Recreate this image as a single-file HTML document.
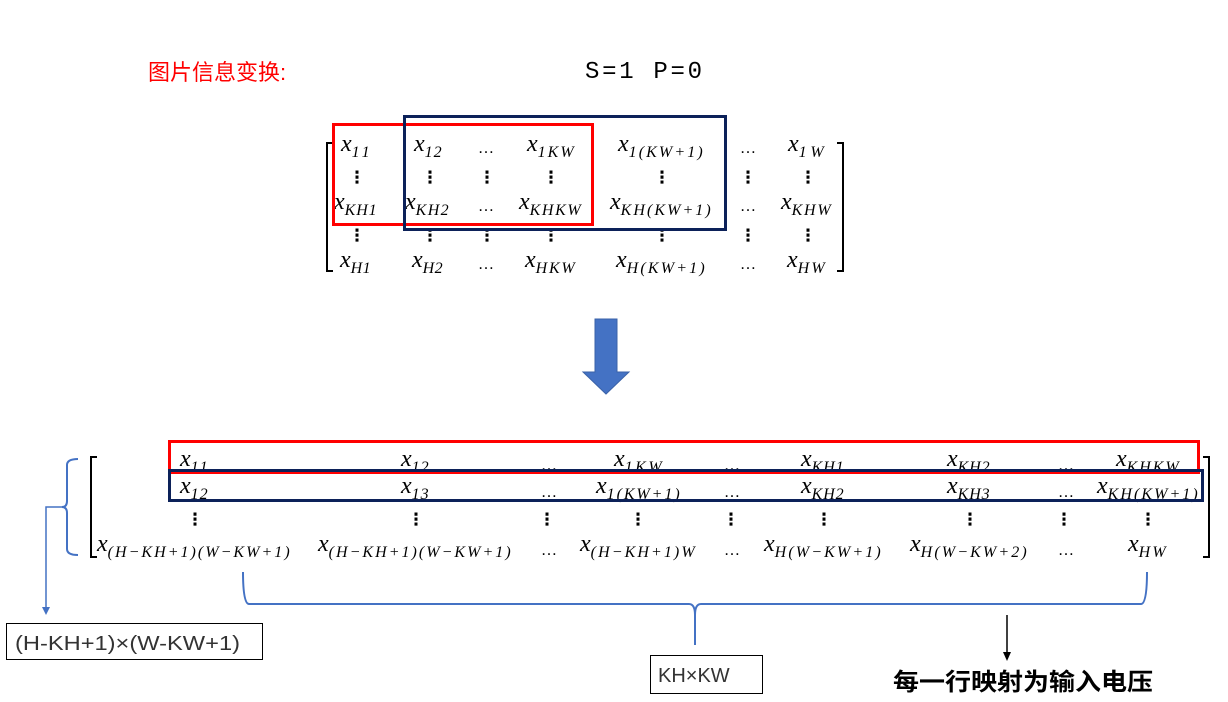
<!DOCTYPE html>
<html><head><meta charset="utf-8"><style>
html,body{margin:0;padding:0;background:#fff;}
svg{display:block;}
.m{font-family:"Liberation Serif",serif;font-style:italic;font-size:24px;fill:#000;}
.s{font-size:16px;}
.d{font-family:"DejaVu Sans",sans-serif;font-size:17px;font-weight:bold;fill:#000;}
.e{font-family:"Liberation Serif",serif;font-size:16px;fill:#000;}
</style></head><body>
<svg width="1228" height="702" viewBox="0 0 1228 702" xmlns="http://www.w3.org/2000/svg">
<text x="148" y="80" font-family="Liberation Sans,'Noto Sans CJK SC',sans-serif" font-size="22" fill="#f00">图片信息变换:</text>
<text x="585" y="78" font-family="'Liberation Mono',monospace" font-size="24" fill="#000" textLength="117" lengthAdjust="spacing">S=1  P=0</text>

<path d="M333,143 H327 V271 H333" fill="none" stroke="#000" stroke-width="2"/>
<path d="M837,143 H843 V271 H837" fill="none" stroke="#000" stroke-width="2"/>

<g class="m">
<text x="341" y="151">x<tspan class="s" dy="6" textLength="18">11</tspan></text>
<text x="414" y="151">x<tspan class="s" dy="6" textLength="17">12</tspan></text>
<text x="527" y="151">x<tspan class="s" dy="6" textLength="36">1KW</tspan></text>
<text x="618" y="151">x<tspan class="s" dy="6" textLength="74">1(KW+1)</tspan></text>
<text x="788" y="151">x<tspan class="s" dy="6" textLength="25">1W</tspan></text>
<text x="334" y="209">x<tspan class="s" dy="6" textLength="32">KH1</tspan></text>
<text x="405" y="209">x<tspan class="s" dy="6" textLength="33">KH2</tspan></text>
<text x="519" y="209">x<tspan class="s" dy="6" textLength="51">KHKW</tspan></text>
<text x="610" y="209">x<tspan class="s" dy="6" textLength="90">KH(KW+1)</tspan></text>
<text x="781" y="209">x<tspan class="s" dy="6" textLength="39">KHW</tspan></text>
<text x="340" y="267">x<tspan class="s" dy="6" textLength="20">H1</tspan></text>
<text x="412" y="267">x<tspan class="s" dy="6" textLength="20">H2</tspan></text>
<text x="525" y="267">x<tspan class="s" dy="6" textLength="39">HKW</tspan></text>
<text x="616" y="267">x<tspan class="s" dy="6" textLength="78">H(KW+1)</tspan></text>
<text x="787" y="267">x<tspan class="s" dy="6" textLength="27">HW</tspan></text>
</g>
<g class="e">
<text x="478" y="153">…</text><text x="740" y="153">…</text>
<text x="478" y="211">…</text><text x="740" y="211">…</text>
<text x="478" y="269">…</text><text x="740" y="269">…</text>
</g>
<g class="d" text-anchor="middle">
<text x="357" y="183">⋮</text><text x="430" y="183">⋮</text><text x="487" y="183">⋮</text><text x="551" y="183">⋮</text><text x="662" y="183">⋮</text><text x="748" y="183">⋮</text><text x="808" y="183">⋮</text>
<text x="357" y="241">⋮</text><text x="430" y="241">⋮</text><text x="487" y="241">⋮</text><text x="551" y="241">⋮</text><text x="662" y="241">⋮</text><text x="748" y="241">⋮</text><text x="808" y="241">⋮</text>
</g>
<rect x="333.5" y="124.5" width="259" height="100" fill="none" stroke="#f00" stroke-width="3"/>
<rect x="404.5" y="116.5" width="321" height="113" fill="none" stroke="#0c2159" stroke-width="3"/>

<path d="M595,319 H617 V372 H629 L606,394 L583,372 H595 Z" fill="#4472c4" stroke="#3a62a8" stroke-width="1"/>

<path d="M97,457 H91 V557 H97" fill="none" stroke="#000" stroke-width="2"/>
<path d="M1203,457 H1209 V557 H1203" fill="none" stroke="#000" stroke-width="2"/>

<g class="m">
<text x="180" y="466">x<tspan class="s" dy="6" textLength="17">11</tspan></text>
<text x="401" y="466">x<tspan class="s" dy="6" textLength="17">12</tspan></text>
<text x="614" y="466">x<tspan class="s" dy="6" textLength="37">1KW</tspan></text>
<text x="801" y="466">x<tspan class="s" dy="6" textLength="32">KH1</tspan></text>
<text x="947" y="466">x<tspan class="s" dy="6" textLength="32">KH2</tspan></text>
<text x="1116" y="466">x<tspan class="s" dy="6" textLength="52">KHKW</tspan></text>
<text x="180" y="493">x<tspan class="s" dy="6" textLength="17">12</tspan></text>
<text x="401" y="493">x<tspan class="s" dy="6" textLength="17">13</tspan></text>
<text x="596" y="493">x<tspan class="s" dy="6" textLength="73">1(KW+1)</tspan></text>
<text x="801" y="493">x<tspan class="s" dy="6" textLength="32">KH2</tspan></text>
<text x="947" y="493">x<tspan class="s" dy="6" textLength="32">KH3</tspan></text>
<text x="1097" y="493">x<tspan class="s" dy="6" textLength="90">KH(KW+1)</tspan></text>
<text x="97" y="551">x<tspan class="s" dy="6" textLength="182">(H−KH+1)(W−KW+1)</tspan></text>
<text x="318" y="551">x<tspan class="s" dy="6" textLength="182">(H−KH+1)(W−KW+1)</tspan></text>
<text x="580" y="551">x<tspan class="s" dy="6" textLength="104">(H−KH+1)W</tspan></text>
<text x="764" y="551">x<tspan class="s" dy="6" textLength="106">H(W−KW+1)</tspan></text>
<text x="910" y="551">x<tspan class="s" dy="6" textLength="106">H(W−KW+2)</tspan></text>
<text x="1128" y="551">x<tspan class="s" dy="6" textLength="27">HW</tspan></text>
</g>
<g class="e">
<text x="541" y="470">…</text><text x="724" y="470">…</text><text x="1058" y="470">…</text>
<text x="541" y="497">…</text><text x="724" y="497">…</text><text x="1058" y="497">…</text>
<text x="541" y="555">…</text><text x="724" y="555">…</text><text x="1058" y="555">…</text>
</g>
<g class="d" text-anchor="middle">
<text x="195" y="525">⋮</text><text x="416" y="525">⋮</text><text x="547" y="525">⋮</text><text x="638" y="525">⋮</text><text x="731" y="525">⋮</text><text x="824" y="525">⋮</text><text x="970" y="525">⋮</text><text x="1064" y="525">⋮</text><text x="1148" y="525">⋮</text>
</g>
<rect x="169.5" y="441.5" width="1029" height="31" fill="none" stroke="#f00" stroke-width="3"/>
<rect x="169.5" y="470.5" width="1033" height="30" fill="none" stroke="#0c2159" stroke-width="3"/>

<path d="M78,459 Q67,459 67,465 V501 Q67,507 62,507 Q67,507 67,513 V549 Q67,555 78,555" fill="none" stroke="#4472c4" stroke-width="2"/>
<path d="M62,507 H46 V610" fill="none" stroke="#4472c4" stroke-width="1.5"/>
<path d="M42,607 L46,615 L50,607 Z" fill="#4472c4"/>
<rect x="6.5" y="623.5" width="256" height="36" fill="#fff" stroke="#000" stroke-width="1"/>
<text x="15" y="650" font-family="'Liberation Sans',sans-serif" font-size="20" fill="#333" textLength="225" lengthAdjust="spacingAndGlyphs">(H-KH+1)×(W-KW+1)</text>

<path d="M243,572 Q243,604 249,604 H689 Q695,604 695,615 V645 M695,615 Q695,604 701,604 H1141 Q1147,604 1147,572" fill="none" stroke="#4472c4" stroke-width="2"/>
<rect x="650.5" y="655.5" width="112" height="38" fill="#fff" stroke="#000" stroke-width="1"/>
<text x="658" y="682" font-family="'Liberation Sans',sans-serif" font-size="20" fill="#333">KH×KW</text>

<path d="M1007,615 V653" stroke="#000" stroke-width="1.5"/>
<path d="M1003,652 L1007,661 L1011,652 Z" fill="#000"/>
<text x="893" y="690" font-family="'Liberation Sans','Noto Sans CJK SC',sans-serif" font-size="24" font-weight="bold" fill="#000" textLength="260" lengthAdjust="spacingAndGlyphs">每一行映射为输入电压</text>
</svg>
</body></html>
